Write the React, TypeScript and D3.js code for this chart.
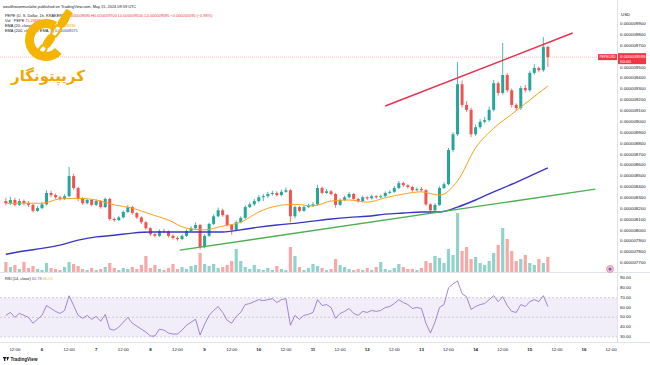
import React, { useEffect, useRef } from 'react';
import * as d3 from 'd3';

// 2h candles, first centred at May 5 08:00 UTC. prices in 1e-9 USD: [open, high, low, close]
const candles: [number, number, number, number][] = [
  [8270, 8300, 8230, 8250], [8250, 8310, 8235, 8280], [8280, 8300, 8220, 8235], [8235, 8290, 8225, 8270],
  [8270, 8285, 8230, 8250], [8250, 8270, 8215, 8235], [8235, 8245, 8165, 8180], [8180, 8225, 8170, 8205],
  [8205, 8260, 8195, 8240], [8240, 8370, 8230, 8345], [8345, 8365, 8305, 8325], [8325, 8340, 8290, 8305],
  [8305, 8320, 8275, 8290], [8290, 8335, 8280, 8315], [8315, 8585, 8305, 8500], [8500, 8520, 8375, 8390],
  [8390, 8400, 8270, 8290], [8290, 8305, 8235, 8250], [8250, 8295, 8240, 8280], [8280, 8290, 8220, 8235],
  [8235, 8285, 8225, 8270], [8270, 8280, 8200, 8215], [8215, 8305, 8205, 8290], [8290, 8300, 8090, 8105],
  [8105, 8120, 8080, 8095], [8095, 8135, 8085, 8120], [8120, 8185, 8110, 8170], [8170, 8235, 8160, 8215],
  [8215, 8225, 8145, 8160], [8160, 8170, 8105, 8120], [8120, 8130, 8060, 8075], [8075, 8085, 8005, 8020],
  [8020, 8030, 7950, 7965], [7965, 7980, 7935, 7950], [7950, 8010, 7940, 7995], [7995, 8015, 7975, 7990],
  [7990, 8000, 7935, 7950], [7950, 7965, 7915, 7930], [7930, 7945, 7905, 7920], [7920, 7965, 7910, 7950],
  [7950, 8010, 7940, 7995], [7995, 8040, 7985, 8020], [8020, 8075, 8010, 8050], [8050, 8060, 7825, 7845],
  [7845, 7965, 7835, 7950], [7950, 8070, 7940, 8060], [8060, 8150, 8050, 8130], [8130, 8210, 8120, 8185],
  [8185, 8200, 8125, 8140], [8140, 8150, 8035, 8050], [8050, 8060, 7960, 8005], [8005, 8090, 7995, 8075],
  [8075, 8130, 8065, 8115], [8115, 8230, 8105, 8215], [8215, 8260, 8205, 8240], [8240, 8290, 8225, 8270],
  [8270, 8325, 8255, 8305], [8305, 8335, 8270, 8315], [8315, 8355, 8300, 8335], [8335, 8365, 8320, 8345],
  [8345, 8360, 8310, 8325], [8325, 8375, 8315, 8355], [8355, 8395, 8345, 8370], [8370, 8380, 8075, 8130],
  [8130, 8230, 8110, 8215], [8215, 8225, 8165, 8180], [8180, 8230, 8170, 8215], [8215, 8245, 8205, 8225],
  [8225, 8260, 8215, 8240], [8240, 8420, 8230, 8390], [8390, 8405, 8330, 8345], [8345, 8380, 8335, 8360],
  [8360, 8370, 8320, 8335], [8335, 8345, 8210, 8235], [8235, 8295, 8225, 8280], [8280, 8320, 8270, 8305],
  [8305, 8355, 8295, 8335], [8335, 8345, 8275, 8290], [8290, 8300, 8255, 8270], [8270, 8320, 8260, 8305],
  [8305, 8315, 8280, 8295], [8295, 8330, 8285, 8315], [8315, 8325, 8290, 8305], [8305, 8330, 8295, 8315],
  [8315, 8360, 8305, 8345], [8345, 8370, 8335, 8355], [8355, 8410, 8345, 8390], [8390, 8455, 8380, 8435],
  [8435, 8450, 8400, 8415], [8415, 8425, 8385, 8400], [8400, 8410, 8355, 8370], [8370, 8395, 8360, 8380],
  [8380, 8400, 8355, 8370], [8370, 8380, 8225, 8240], [8240, 8250, 8160, 8185], [8185, 8250, 8170, 8235],
  [8235, 8405, 8225, 8390], [8390, 8445, 8380, 8425], [8425, 8760, 8415, 8740], [8740, 8905, 8720, 8885],
  [8885, 9550, 8870, 9345], [9345, 9380, 9130, 9155], [9155, 9190, 9090, 9110], [9110, 9130, 8860, 8885],
  [8885, 8975, 8870, 8950], [8950, 9025, 8935, 9000], [9000, 9045, 8985, 9015], [9015, 9140, 9000, 9110],
  [9110, 9385, 9095, 9355], [9355, 9370, 9240, 9265], [9265, 9725, 9250, 9430], [9430, 9450, 9270, 9290],
  [9290, 9305, 9130, 9155], [9155, 9170, 9100, 9125], [9125, 9330, 9110, 9310], [9310, 9340, 9270, 9290],
  [9290, 9470, 9275, 9450], [9450, 9530, 9435, 9495], [9495, 9510, 9455, 9475], [9475, 9780, 9460, 9690],
  [9690, 9700, 9505, 9595],
];

// volume per candle (billions)
const volumes = [
  11, 6, 8, 4, 11, 5, 7, 4, 3, 10,
  5, 4, 3, 6, 11, 9, 7, 4, 3, 5,
  3, 4, 6, 10, 5, 3, 5, 4, 6, 4,
  8, 17, 5, 8, 4, 3, 5, 9, 4, 6,
  4, 7, 8, 20, 9, 7, 9, 5, 6, 8,
  12, 24, 12, 6, 4, 8, 4, 3, 5, 3,
  7, 4, 3, 26, 17, 6, 3, 5, 9, 7,
  5, 3, 4, 14, 8, 6, 4, 3, 4, 3,
  5, 3, 6, 11, 4, 3, 5, 9, 6, 4,
  4, 3, 5, 12, 10, 17, 15, 10, 24, 18,
  60, 22, 26, 14, 16, 10, 8, 12, 20, 28,
  45, 34, 22, 12, 14, 18, 10, 8, 14, 10, 16,
];

const rsi = [
  52, 55, 50, 54, 52, 50, 44, 48, 52, 62, 59, 56, 54, 57,
  72, 62, 52, 49, 52, 48, 51, 46, 53,
  38, 37, 40, 45, 50, 44, 41, 38, 35, 31, 31, 38, 37, 34, 33, 33, 37, 42, 45, 48,
  32, 43, 52, 57, 61, 55, 47, 44, 51, 55, 63, 64, 66, 68,
  67, 68, 69, 65, 68, 69,
  42, 52, 48, 52, 53, 55, 68, 62, 63, 60,
  49, 54, 56, 59, 54, 52, 56, 55, 57, 56,
  57, 60, 61, 64, 68, 65, 63, 59, 60, 59,
  44, 34, 45, 60, 63, 80, 84, 87,
  74, 71, 58, 61, 63, 64, 68, 72, 66, 71, 62, 56, 55, 63, 61, 66, 68, 66, 72, 61,
];

// EMA values read at every 4th candle
const ema20 = [
  8250, 8250, 8250, 8290, 8295, 8280, 8235, 8205, 8150, 8095, 8020, 8005, 8040, 8075, 8170, 8225,
  8240, 8225, 8270, 8280, 8260, 8300, 8335, 8355, 8325, 8455, 8760, 8940, 9070, 9200, 9330,
];
const ema200 = [
  7780, 7810, 7835, 7865, 7910, 7940, 7955, 7975, 7985, 7985, 7985, 7985, 7985, 8005, 8030, 8050,
  8065, 8085, 8105, 8120, 8130, 8150, 8160, 8170, 8170, 8215, 8280, 8355, 8425, 8500, 8575,
];

const redTrend: [number, number][] = [[Date.UTC(2024, 4, 12, 8), 9145], [Date.UTC(2024, 4, 15, 19), 9817]];
const greenTrend: [number, number][] = [[Date.UTC(2024, 4, 8, 13), 7818], [Date.UTC(2024, 4, 16, 5), 8380]];

const priceTicks = [7700, 7800, 7900, 8000, 8100, 8200, 8300, 8400, 8500, 8600, 8700, 8800,
  8900, 9000, 9100, 9200, 9300, 9400, 9500, 9700, 9800, 9900];
const rsiTicks = [30, 40, 50, 60, 70, 80, 90];
const timeLabels = ['12:00', '6', '12:00', '7', '12:00', '8', '12:00', '9', '12:00', '10', '12:00', '11',
  '12:00', '12', '12:00', '13', '12:00', '14', '12:00', '15', '12:00', '16', '12:00'];

const HOUR = 3600000;
const FONT = '"Liberation Sans", Arial, sans-serif';

const App = () => {
  const svgRef = useRef<SVGSVGElement>(null);

  useEffect(() => {
    const svg = d3.select(svgRef.current);
    svg.selectAll('*').remove();

    const t0 = Date.UTC(2024, 4, 5, 8);
    const tx = (i: number) => new Date(t0 + i * 2 * HOUR);

    const x = d3.scaleUtc()
      .domain([new Date(Date.UTC(2024, 4, 6)), new Date(Date.UTC(2024, 4, 16))])
      .range([42, 584]);
    const y = d3.scaleLinear().domain([7700, 9900]).range([263, 24]);
    const yVol = d3.scaleLinear().domain([0, 60]).range([273, 213]);
    const yRsi = d3.scaleLinear().domain([30, 90]).range([337, 278]);

    const up = '#26a69a';
    const down = '#ef5350';

    svg.append('rect').attr('width', 650).attr('height', 365).attr('fill', '#fff');

    const defs = svg.append('defs');
    defs.append('clipPath').attr('id', 'main').append('rect')
      .attr('x', 0).attr('y', 0).attr('width', 617).attr('height', 272);
    defs.append('clipPath').attr('id', 'rsi').append('rect')
      .attr('x', 0).attr('y', 273).attr('width', 617).attr('height', 69);

    // panes
    svg.append('line').attr('x1', 0).attr('x2', 650).attr('y1', 272.5).attr('y2', 272.5).attr('stroke', '#e0e3eb');
    svg.append('line').attr('x1', 0).attr('x2', 650).attr('y1', 342.5).attr('y2', 342.5).attr('stroke', '#e0e3eb');
    svg.append('line').attr('x1', 617.5).attr('x2', 617.5).attr('y1', 0).attr('y2', 342).attr('stroke', '#e0e3eb');

    const main = svg.append('g').attr('clip-path', 'url(#main)');

    // volume
    main.append('g').selectAll('rect').data(volumes).enter().append('rect')
      .attr('x', (d, i) => x(tx(i)) - 1.6)
      .attr('width', 3.2)
      .attr('y', d => yVol(d))
      .attr('height', d => yVol(0) - yVol(d))
      .attr('fill', (d, i) => (candles[i][3] >= candles[i][0] ? up : down))
      .attr('opacity', 0.5);

    // last price line
    const last = candles[candles.length - 1];
    main.append('line').attr('x1', 0).attr('x2', 617)
      .attr('y1', y(last[3])).attr('y2', y(last[3]))
      .attr('stroke', '#f23645').attr('stroke-opacity', 0.35).attr('stroke-dasharray', '1,1');

    // candles
    const cg = main.append('g').selectAll('g').data(candles).enter().append('g');
    cg.append('line')
      .attr('x1', (d, i) => x(tx(i))).attr('x2', (d, i) => x(tx(i)))
      .attr('y1', d => y(d[1])).attr('y2', d => y(d[2]))
      .attr('stroke', d => (d[3] >= d[0] ? up : down)).attr('stroke-width', 0.8);
    cg.append('rect')
      .attr('x', (d, i) => x(tx(i)) - 1.5).attr('width', 3)
      .attr('y', d => y(Math.max(d[0], d[3])))
      .attr('height', d => Math.max(0.8, Math.abs(y(d[0]) - y(d[3]))))
      .attr('fill', d => (d[3] >= d[0] ? up : down));

    // EMAs
    const emaLine = d3.line<number>().x((d, k) => x(tx(k * 4))).y(d => y(d)).curve(d3.curveMonotoneX);
    main.append('path').datum(ema200).attr('d', emaLine).attr('fill', 'none')
      .attr('stroke', '#3a36c4').attr('stroke-width', 1.4);
    main.append('path').datum(ema20).attr('d', emaLine).attr('fill', 'none')
      .attr('stroke', '#f7a21b').attr('stroke-width', 1);

    // trend lines
    const tline = d3.line<[number, number]>().x(d => x(new Date(d[0]))).y(d => y(d[1]));
    main.append('path').datum(greenTrend).attr('d', tline).attr('stroke', '#4caf50').attr('stroke-width', 1.4).attr('fill', 'none');
    main.append('path').datum(redTrend).attr('d', tline).attr('stroke', '#e8304a').attr('stroke-width', 1.4).attr('fill', 'none');

    // event marker
    svg.append('circle').attr('cx', 610).attr('cy', 269).attr('r', 3.5).attr('fill', '#f8bbd0').attr('stroke', '#e57373').attr('stroke-width', 0.6);
    svg.append('circle').attr('cx', 610).attr('cy', 269).attr('r', 1.5).attr('fill', '#5c6bc0');

    // RSI pane
    const rg = svg.append('g').attr('clip-path', 'url(#rsi)');
    rg.append('rect').attr('x', 0).attr('width', 617)
      .attr('y', yRsi(70)).attr('height', yRsi(30) - yRsi(70))
      .attr('fill', '#7e57c2').attr('fill-opacity', 0.1);
    [70, 50, 30].forEach(v => {
      rg.append('line').attr('x1', 0).attr('x2', 617).attr('y1', yRsi(v)).attr('y2', yRsi(v))
        .attr('stroke', '#787b86').attr('stroke-opacity', 0.5).attr('stroke-width', 0.6).attr('stroke-dasharray', '2,2');
    });
    rg.append('path').datum(rsi)
      .attr('d', d3.line<number>().x((d, i) => x(tx(i))).y(d => yRsi(d)))
      .attr('fill', 'none').attr('stroke', '#7e57c2').attr('stroke-width', 0.7);

    // price axis
    const ax = svg.append('g').attr('font-family', FONT).attr('font-size', 4.4).attr('fill', '#131722');
    ax.append('text').attr('x', 621).attr('y', 15).attr('dominant-baseline', 'middle').text('USD');
    ax.selectAll('.p').data(priceTicks).enter().append('text')
      .attr('x', 620).attr('y', d => y(d)).attr('dominant-baseline', 'middle')
      .text(d => (d * 1e-9).toFixed(9));
    ax.selectAll('.r').data(rsiTicks).enter().append('text')
      .attr('x', 620).attr('y', d => yRsi(d)).attr('dominant-baseline', 'middle')
      .text(d => d.toFixed(2));

    // time axis
    ax.selectAll('.t').data(timeLabels).enter().append('text')
      .attr('x', (d, i) => x(new Date(Date.UTC(2024, 4, 5, 12) + i * 12 * HOUR)))
      .attr('y', 350).attr('text-anchor', 'middle').attr('dominant-baseline', 'middle')
      .attr('font-weight', d => (d.includes(':') ? 'normal' : 'bold'))
      .text(d => d);

    // price tags
    const py = y(last[3]);
    svg.append('rect').attr('x', 598).attr('y', py - 3).attr('width', 19).attr('height', 6).attr('fill', '#f23645');
    svg.append('text').attr('x', 607.5).attr('y', py).attr('text-anchor', 'middle').attr('dominant-baseline', 'middle')
      .attr('font-family', FONT).attr('font-size', 3.4).attr('fill', '#fff').text('PEPEUSD');
    svg.append('rect').attr('x', 618).attr('y', py - 4).attr('width', 28).attr('height', 11).attr('fill', '#f23645');
    svg.append('text').attr('x', 620).attr('y', py).attr('dominant-baseline', 'middle')
      .attr('font-family', FONT).attr('font-size', 4.4).attr('fill', '#fff').text((last[3] * 1e-9).toFixed(9));
    svg.append('text').attr('x', 620).attr('y', py + 5).attr('dominant-baseline', 'middle')
      .attr('font-family', FONT).attr('font-size', 4.4).attr('fill', '#fff').text('00:00');

    // legend
    const lg = svg.append('g').attr('font-family', FONT).attr('font-size', 3.9).attr('fill', '#131722');
    lg.append('text').attr('x', 3).attr('y', 7.5)
      .text('wealthwizemuslahe published on TradingView.com, May 15, 2024 09:59 UTC');
    const rows: [string, string, string][] = [
      ['PEPE (U. S. Dollar, 1h, KRAKEN) ', 'O0.000009690 H0.000009700 L0.000009504 C0.000009595 \u22120.000000095 (\u22120.98%)', '#f23645'],
      ['Vol \u00b7 PEPE ', '75.266M', '#f23645'],
      ['EMA (20, close, 0, EMA, 5) ', (ema20[ema20.length - 1] * 1e-9).toFixed(9), '#f7a21b'],
      ['EMA (200, close, 0, EMA, 5) ', (ema200[ema200.length - 1] * 1e-9).toFixed(9), '#3a36c4'],
    ];
    rows.forEach((r, k) => {
      const t = lg.append('text').attr('x', 5).attr('y', 16.5 + k * 5);
      t.append('tspan').text(r[0]);
      t.append('tspan').attr('fill', r[2]).text(r[1]);
    });
    const rl = lg.append('text').attr('x', 5).attr('y', 279.5);
    rl.append('tspan').text('RSI (14, close) ');
    rl.append('tspan').attr('fill', '#7e57c2').text('60.78 ');
    rl.append('tspan').attr('fill', '#f2b705').text('66.13');

    // TradingView mark
    const tv = svg.append('g');
    tv.append('rect').attr('x', 3).attr('y', 357).attr('width', 3).attr('height', 1.4).attr('fill', '#131722');
    tv.append('rect').attr('x', 4).attr('y', 357).attr('width', 1.3).attr('height', 4).attr('fill', '#131722');
    tv.append('path').attr('d', 'M6.3 357 L9 357 L7.5 361 Z').attr('fill', '#131722');
    tv.append('text').attr('x', 10.5).attr('y', 361).attr('font-family', FONT).attr('font-size', 4.6)
      .attr('font-weight', 'bold').attr('fill', '#131722').text('TradingView');

    // watermark logo
    const gold = '#f4b400';
    const logo = svg.append('g');
    logo.append('path')
      .attr('transform', 'translate(46,40)')
      .attr('d', d3.arc()({ innerRadius: 12, outerRadius: 21, startAngle: 2.3, endAngle: 2 * Math.PI + 0.55 }) as string)
      .attr('fill', gold);
    const ang = Math.atan2(12 - 56, 70 - 38) * 180 / Math.PI;
    [0, 1, 2, 3].forEach(k => {
      const cx = 38 + (70 - 38) * (k + 0.5) / 4.4;
      const cy = 56 + (12 - 56) * (k + 0.5) / 4.4;
      logo.append('rect')
        .attr('x', -6).attr('y', -3.2).attr('width', 12).attr('height', 6.4).attr('rx', 3)
        .attr('transform', `translate(${cx},${cy}) rotate(${ang})`)
        .attr('fill', k % 2 ? gold : 'none').attr('stroke', gold).attr('stroke-width', 2.2);
    });
    logo.append('rect').attr('x', -5).attr('y', -4).attr('width', 10).attr('height', 8).attr('rx', 1.5)
      .attr('transform', `translate(67,15) rotate(${ang})`).attr('fill', gold);
    logo.append('text').attr('x', 48).attr('y', 81).attr('text-anchor', 'middle')
      .attr('font-family', '"DejaVu Sans", sans-serif').attr('font-size', 15).attr('font-weight', 'bold')
      .attr('fill', '#f0a800').text('کریپتونگار');
  }, []);

  return (
    <div style={{ position: 'fixed', left: 0, top: 0 }}>
      <svg ref={svgRef} width={650} height={365} viewBox="0 0 650 365" style={{ display: 'block' }}></svg>
    </div>
  );
};

export default App;
